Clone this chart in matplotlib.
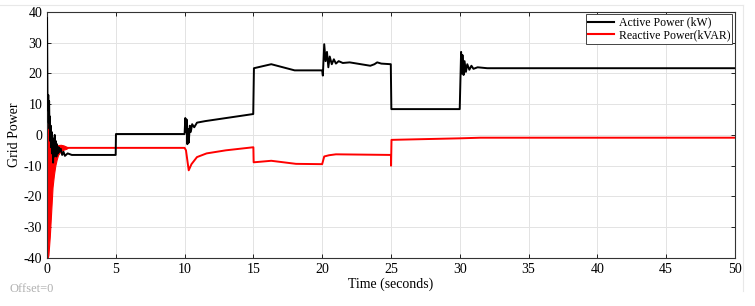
import numpy as np
import matplotlib
matplotlib.use("Agg")
import matplotlib.pyplot as plt
from matplotlib.lines import Line2D

plt.rcParams["font.family"] = ["Liberation Serif", "DejaVu Serif"]
plt.rcParams["axes.unicode_minus"] = False

# --- Active power (kW) ---
active_t = [0, 0.03, 0.06, 0.09, 0.12, 0.15, 0.18, 0.21, 0.24, 0.27, 0.3, 0.33, 0.36,
            0.4, 0.44, 0.48, 0.52, 0.56, 0.6, 0.64, 0.68, 0.72, 0.8, 0.85, 0.9, 1.0,
            1.1, 1.2, 1.3, 1.5, 1.8, 4.99, 5.01, 10.0, 10.05, 10.1, 10.15, 10.2, 10.25,
            10.3, 10.38, 10.45, 10.55, 10.7, 10.9, 11.5, 14.99, 15.04, 16.3, 18.0, 20.0,
            20.05, 20.15, 20.25, 20.35, 20.45, 20.55, 20.7, 20.85, 21.0, 21.2, 21.5, 22.0,
            23.5, 23.8, 24.0, 24.3, 24.99, 25.03, 30.0, 30.1, 30.15, 30.2, 30.28, 30.35,
            30.45, 30.55, 30.7, 30.85, 31.0, 31.3, 32.0, 50.0]
active_p = [38, 14, 8, 13, 4, 11, 2, 6, -2, 3, -4, 1, -6,
            -1, -9, -2, -7, 0, -6, -2, -7, -3, -6, -4, -5.5, -4.5,
            -6.5, -5.5, -6.8, -6, -6.5, -6.5, 0.3, 0.3, 5.5, 1, 5, -3, 2,
            -2.5, 3, 1, 3.5, 2.5, 4, 4.5, 6.8, 21.7, 23, 21, 21,
            19.3, 29.5, 24, 27, 22, 25.5, 23, 24.6, 23.2, 24, 23.4, 23.6,
            22.5, 23, 23.6, 23.2, 23, 8.4, 8.4, 27, 20, 26, 19.5, 24,
            20.5, 23, 21.2, 22.5, 21.5, 22, 21.7, 21.7]

# --- Reactive power (kVAR) ---
react_t = [1.5, 10.0, 10.1, 10.3, 10.5, 10.9, 11.6, 13.0, 15.0, 15.02, 16.3, 18.1,
           20.0, 20.15, 20.5, 21.0, 25.0, 25.01, 25.04, 27.0, 30.0, 31.5, 50.0]
react_q = [-4.2, -4.2, -5, -11.5, -9.5, -7.2, -6, -5, -4, -8.9, -8.4, -9.4,
           -9.5, -7, -6.6, -6.3, -6.5, -10, -1.6, -1.4, -1.1, -0.9, -0.9]

# start-up oscillation of reactive power (envelope)
osc_t = [0, 0.05, 0.1, 0.2, 0.3, 0.4, 0.5, 0.6, 0.7, 0.8, 1.0, 1.2, 1.4, 1.5]
osc_hi = [10, 8, 4, 0, -4, -6, -6.5, -5, -4, -3.3, -3.2, -3.4, -3.8, -4.2]
osc_lo = [-40, -40, -39, -33, -25, -17, -13, -10, -8, -6.5, -5.2, -4.8, -4.5, -4.2]

xticks = np.arange(0, 51, 5)
yticks = np.arange(-40, 41, 10)

fig = plt.figure(figsize=(7.55, 3.06), dpi=100)
ax = fig.add_axes([0.0623, 0.157, 0.911, 0.804])

ax.fill_between(osc_t, osc_lo, osc_hi, color="#ff0000", linewidth=0.8, zorder=2)
ax.plot(react_t, react_q, color="#ff0000", linewidth=1.4, zorder=2)
ax.plot(active_t, active_p, color="black", linewidth=1.4, zorder=3)

ax.set_xlim(0, 50)
ax.set_ylim(-40, 40)
ax.set_xticks(xticks)
ax.set_yticks(yticks)
ax.tick_params(direction="in", labelsize=10, length=3, width=0.6, top=True, right=True)
ax.grid(True, color="#e3e3e3", linewidth=0.7)
ax.set_axisbelow(True)
for s in ax.spines.values():
    s.set_linewidth(0.8)
    s.set_color("#333333")

ax.set_xlabel("Time (seconds)", fontsize=10, labelpad=1)
ax.set_ylabel("Grid Power", fontsize=10, labelpad=2)

handles = [Line2D([], [], color="black", linewidth=1.5),
           Line2D([], [], color="#ff0000", linewidth=1.5)]
leg = ax.legend(handles, ["Active Power (kW)", "Reactive Power(kVAR)"], loc="upper right",
                fontsize=8.5, fancybox=False, framealpha=1, edgecolor="#444444",
                borderpad=0.2, handlelength=2.2, handletextpad=0.4, labelspacing=0.05,
                borderaxespad=0.2)
leg.get_frame().set_linewidth(0.7)

fig.text(0.013, 0.045, "Offset=0", color="#b0b0b0", fontsize=9)

# faint frame from the original screenshot
fig.add_artist(Line2D([0, 0.984], [0.984, 0.984], color="#e8e8e8", linewidth=0.8))
fig.add_artist(Line2D([0.984, 0.984], [0.05, 0.984], color="#e8e8e8", linewidth=0.8))

fig.savefig("out.png", dpi=100, facecolor="white")
